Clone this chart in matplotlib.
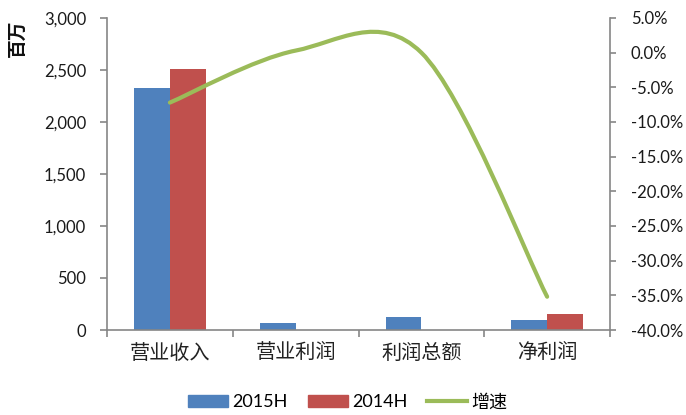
import numpy as np
import matplotlib.pyplot as plt
from matplotlib.path import Path
from matplotlib.patches import PathPatch
from matplotlib.lines import Line2D
from matplotlib.ticker import FuncFormatter, MultipleLocator

plt.rcParams['font.family'] = ['Lato', 'Noto Sans CJK SC', 'DejaVu Sans']

categories = ['营业收入', '营业利润', '利润总额', '净利润']
h2015 = [2330, 70, 125, 98]
h2014 = [2513, np.nan, np.nan, 150]
growth = [-7.2, 0.3, 0.0, -35.2]   # %

blue = '#4F81BD'
red = '#C0504D'
green = '#9BBB59'
axis_col = '#868686'
cjk = ['Noto Sans CJK SC', 'DejaVu Sans']

fig = plt.figure(figsize=(6.86, 4.15), dpi=100)
ax = fig.add_axes([107 / 686, 1 - 330 / 415, 503 / 686, 312 / 415])
ax2 = ax.twinx()

x = np.arange(len(categories))
w = 0.284
ax.bar(x - w / 2, h2015, w, color=blue, label='2015H', zorder=2)
ax.bar(x + w / 2, h2014, w, color=red, label='2014H', zorder=2)

ax.set_xlim(-0.5, len(categories) - 0.5)
ax.set_ylim(0, 3000)
ax.yaxis.set_major_locator(MultipleLocator(500))
ax.yaxis.set_major_formatter(FuncFormatter(lambda v, p: f'{v:,.0f}'))

ax.set_xticks(np.arange(-0.5, len(categories), 1.0))
ax.set_xticklabels([])
ax.set_xticks(x, minor=True)
ax.set_xticklabels(categories, minor=True, family=cjk, fontsize=14.5, color='#222222')
ax.tick_params(axis='x', which='minor', length=0, pad=9)
ax.tick_params(axis='x', which='major', length=5, width=1.2, color=axis_col, direction='out')
ax.tick_params(axis='y', length=5, width=1.2, color=axis_col, labelsize=12,
               labelcolor='#1a1a1a', pad=10)

for s in ['top', 'right']:
    ax.spines[s].set_visible(False)
for s in ['left', 'bottom']:
    ax.spines[s].set_color(axis_col)
    ax.spines[s].set_linewidth(1.2)

# 增速 line, smoothed like Excel (Bezier through the points)
ax2.set_ylim(-40, 5)
ax2.yaxis.set_major_locator(MultipleLocator(5))
ax2.yaxis.set_major_formatter(FuncFormatter(lambda v, p: f'{v:.1f}%'))
ax2.tick_params(axis='y', length=4, width=1.2, color=axis_col, labelsize=12,
                labelcolor='#1a1a1a', pad=11)
for s in ['top', 'left', 'bottom']:
    ax2.spines[s].set_visible(False)
ax2.spines['right'].set_color(axis_col)
ax2.spines['right'].set_linewidth(1.2)

pts = np.column_stack([x, growth]).astype(float)
verts = [pts[0]]
codes = [Path.MOVETO]
n = len(pts)
for i in range(n - 1):
    p0, p1 = pts[i], pts[i + 1]
    pm = pts[i - 1] if i > 0 else p0
    pn = pts[i + 2] if i + 2 < n else p1
    c1 = p0 + (p1 - pm) / 6
    c2 = p1 - (pn - p0) / 6
    verts += [c1, c2, p1]
    codes += [Path.CURVE4] * 3
ax2.add_patch(PathPatch(Path(verts, codes), facecolor='none', edgecolor=green,
                        lw=3, capstyle='round', joinstyle='round', zorder=3))

fig.text(17 / 686, 1 - 38 / 415, '百万', rotation=90, ha='center', va='center',
         fontsize=13.5, family=cjk, weight='bold', color='#111111')

handles = [plt.Rectangle((0, 0), 1, 1, color=blue),
           plt.Rectangle((0, 0), 1, 1, color=red),
           Line2D([], [], color=green, lw=3)]
leg = fig.legend(handles, ['2015H', '2014H', '增速'], loc='center',
                 bbox_to_anchor=(348 / 686, 1 - 402 / 415), ncol=3, frameon=False,
                 prop={'family': ['Lato', 'Noto Sans CJK SC'], 'size': 13},
                 handlelength=2.2, handleheight=0.6, handletextpad=0.25,
                 columnspacing=1.1)

fig.savefig('out.png', dpi=100)
